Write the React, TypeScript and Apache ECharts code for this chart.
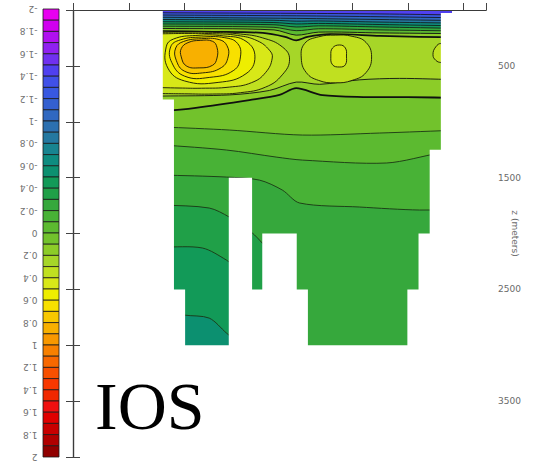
import React, { useEffect, useRef } from "react";
import * as echarts from "echarts";

// Colour scale: 40 steps of 0.1 from -2 (top of the bar) to 2 (bottom)
const scaleMin = -2;
const scaleStep = 0.1;
const palette = [
  "#e800f0", "#d000f0", "#b010f0", "#9020f0", "#7030f0",
  "#5040f0", "#4050e8", "#3858e0", "#3460d0", "#3068c0",
  "#2c70b0", "#2478a0", "#188490", "#0e8c80", "#0c9070",
  "#129a58", "#20a048", "#36a83c", "#48b236", "#5cba30",
  "#72c22c", "#8ccc28", "#a6d628", "#c0e020", "#d8e818",
  "#eeee00", "#f8e000", "#f8c800", "#f8b000", "#f89800",
  "#f88000", "#f86800", "#f85000", "#f83800", "#f02800",
  "#f01010", "#e00000", "#c80000", "#b00000", "#900000",
];
const colorbarTicks = [
  -2, -1.8, -1.6, -1.4, -1.2, -1, -0.8, -0.6, -0.4, -0.2, 0,
  0.2, 0.4, 0.6, 0.8, 1, 1.2, 1.4, 1.6, 1.8, 2,
];

// Depth axis (m) and the labelled depths
const depthMax = 4000;
const depthTicks = [500, 1500, 2500, 3500];

// Section outline: column edges along the section and the deepest valid sample of each column
const columnEdges = [1.6, 1.8, 2.0, 2.8, 3.2, 3.4, 4.0, 4.2, 6.0, 6.2, 6.4, 6.6, 6.8];
const columnBottoms = [800, 2500, 3000, 1500, 2500, 2000, 2500, 3000, 2500, 2000, 1250, 27];
const sectionFloor = 3600; // closing depth of the filled bands, hidden under the topography
const maskFloor = 3990;
const sectionLeft = 1.45;
const sectionRight = 6.95;

// Surface water value (fills everything above the first contour)
const surfaceValue = -1.45;

// Open contours from the surface downwards: level, value of the band beneath, line weight, ink, path [x, depth]
const lineLevels = [-1.3, -1.1, -0.9, -0.7, -0.5, -0.3, -0.1, 0.1, 0.2, 0.2, 0.1, 0, -0.1, -0.2, -0.3, -0.4, -0.5];
const lineBands = [-1.25, -1.05, -0.85, -0.65, -0.45, -0.25, -0.05, 0.15, 0.25, 0.15, 0.05, -0.05, -0.15, -0.25, -0.35, -0.45, -0.55];
const lineWeights = [0.8, 0.8, 0.8, 0.8, 0.8, 0.8, 0.8, 0.9, 1.7, 0.9, 1.8, 0.9, 0.9, 0.9, 0.9, 0.9, 0.9];
const lineInks = [
  "#101010", "#101010", "#101010", "#101010", "#101010", "#101010", "#101010", "#101010",
  "#101010", "#101010", "#101010", "#1b3514", "#1b3514", "#1b3514", "#1b3514", "#1b3514", "#1b3514",
];
const linePaths: number[][][] = [
  [[1.45, 25], [1.6, 25], [4.0, 30], [5.5, 35], [6.95, 45]],
  [[1.45, 45], [1.6, 45], [4.0, 52], [5.5, 60], [6.95, 70]],
  [[1.45, 65], [1.6, 65], [4.0, 75], [5.5, 85], [6.95, 95]],
  [[1.45, 85], [1.6, 85], [3.6, 92], [4.0, 100], [4.4, 98], [5.5, 108], [6.95, 118]],
  [[1.45, 105], [1.6, 105], [3.6, 112], [4.0, 125], [4.4, 120], [5.5, 130], [6.95, 142]],
  [[1.45, 125], [1.6, 125], [3.6, 132], [4.0, 152], [4.4, 142], [5.5, 152], [6.95, 165]],
  [[1.45, 145], [1.6, 145], [3.6, 155], [4.0, 185], [4.4, 168], [5.5, 178], [6.95, 188]],
  [[1.45, 165], [1.6, 165], [3.6, 178], [4.0, 225], [4.4, 198], [5.5, 205], [6.95, 212]],
  [[1.45, 188], [1.6, 188], [2.5, 195], [3.4, 205], [3.8, 240], [4.0, 272], [4.2, 240], [4.6, 215], [5.5, 232], [6.2, 240], [6.95, 245]],
  [[1.45, 770], [1.6, 770], [2.8, 760], [3.52, 720], [4.0, 645], [4.42, 665], [5.13, 625], [5.85, 612], [6.95, 625]],
  [[1.45, 905], [1.6, 905], [2.2, 875], [3.16, 806], [3.7, 760], [4.0, 700], [4.47, 762], [5.2, 779], [6.0, 779], [6.95, 788]],
  [[1.45, 1047], [1.6, 1047], [2.8, 1074], [4.11, 1119], [5.49, 1101], [6.95, 1074]],
  [[1.45, 1208], [1.6, 1208], [2.75, 1253], [3.64, 1316], [4.11, 1343], [5.62, 1369], [6.57, 1280], [6.95, 1260]],
  [[1.45, 1477], [1.6, 1477], [2.75, 1495], [3.34, 1522], [3.75, 1611], [4.06, 1727], [5.13, 1763], [6.21, 1790], [6.95, 1780]],
  [[1.45, 1745], [1.6, 1745], [2.44, 1772], [2.8, 1853], [3.2, 1990], [3.4, 2090], [3.6, 2200]],
  [[1.45, 2121], [1.6, 2121], [2.32, 2130], [2.75, 2238], [2.9, 2300]],
  [[1.45, 2690], [1.6, 2690], [1.99, 2730], [2.44, 2757], [2.75, 2891], [2.9, 2950]],
];

// Closed contours around the warm cores: level, value inside, outline [x, depth]
const ringLevels = [0.3, 0.4, 0.5, 0.6, 0.7, 0.8, 0.3, 0.4, 0.3];
const ringBands = [0.35, 0.45, 0.55, 0.65, 0.75, 0.85, 0.35, 0.45, 0.35];
const ringPaths: number[][][] = [
  [[1.45, 470], [1.45, 202], [1.6, 200], [2.0, 198], [2.5, 200], [3.0, 215], [3.4, 250], [3.75, 330], [3.88, 440], [3.75, 580], [3.45, 690], [3.0, 740], [2.5, 752], [2.0, 750], [1.6, 748], [1.45, 748]],
  [[1.45, 470], [1.45, 214], [1.6, 213], [2.0, 210], [2.5, 212], [2.95, 228], [3.3, 275], [3.52, 360], [3.57, 430], [3.45, 560], [3.2, 650], [2.8, 690], [2.3, 700], [1.9, 698], [1.6, 695], [1.45, 695]],
  [[1.67, 330], [1.8, 260], [2.2, 228], [2.7, 232], [3.1, 280], [3.26, 420], [3.1, 570], [2.6, 648], [2.0, 635], [1.7, 520]],
  [[1.75, 330], [1.92, 268], [2.3, 242], [2.72, 248], [2.95, 300], [3.0, 420], [2.88, 540], [2.45, 603], [2.0, 592], [1.77, 470]],
  [[1.84, 340], [1.98, 282], [2.3, 257], [2.62, 265], [2.76, 320], [2.78, 420], [2.66, 515], [2.32, 563], [2.0, 548], [1.85, 450]],
  [[1.94, 345], [2.06, 292], [2.28, 272], [2.5, 280], [2.58, 335], [2.58, 430], [2.5, 495], [2.26, 518], [2.03, 500], [1.94, 420]],
  [[4.09, 430], [4.15, 300], [4.4, 240], [4.7, 225], [5.0, 235], [5.25, 290], [5.35, 420], [5.25, 560], [5.0, 630], [4.7, 652], [4.4, 630], [4.18, 560]],
  [[4.62, 412], [4.65, 340], [4.78, 313], [4.88, 340], [4.9, 412], [4.88, 490], [4.78, 510], [4.65, 490]],
  [[6.45, 400], [6.5, 330], [6.6, 300], [6.75, 340], [6.75, 460], [6.6, 470], [6.5, 450]],
];

const colorOf = (v: number) => {
  const i = Math.floor((v - scaleMin) / scaleStep + 1e-6);
  return palette[Math.max(0, Math.min(palette.length - 1, i))];
};

// White topography: below each column's bottom, plus the margins beside the section
const maskCells: number[][] = [
  ...columnBottoms.map((b, i) => [columnEdges[i], columnEdges[i + 1], b]),
  [1.0, 1.6, 0],
  [6.8, 7.32, 0],
];

// Closes a contour path into the band beneath it; the closing corners sit in masked ground
// and are kept tight so the smoothing cannot bulge into the section.
const bandOutline = (path: number[][]) => {
  const [fx, fd] = path[0];
  const [lx, ld] = path[path.length - 1];
  return [
    ...path,
    [lx + 0.04, ld],
    [lx + 0.04, sectionFloor - 40],
    [lx + 0.04, sectionFloor],
    [lx - 0.06, sectionFloor],
    [fx + 0.06, sectionFloor],
    [fx - 0.04, sectionFloor],
    [fx - 0.04, sectionFloor - 40],
    [fx - 0.04, fd],
  ];
};

const buildOption = (): any => {
  const axisLine = { show: true, lineStyle: { color: "#3a3a3a", width: 1.2 } };
  const tickStyle = { color: "#444", width: 1 };

  return {
    animation: false,
    backgroundColor: "#ffffff",
    grid: [
      { left: 73, right: 60, top: 10, bottom: 9 },
      { left: 43, top: 9, width: 16, height: 448 },
    ],
    xAxis: [
      {
        gridIndex: 0, type: "value", min: 0, max: 7.4, interval: 1, position: "bottom", z: 5,
        axisLine, axisTick: { show: true, inside: true, length: 4, lineStyle: tickStyle },
        axisLabel: { show: false }, splitLine: { show: false },
      },
      {
        gridIndex: 0, type: "value", min: 0, max: 7.4, interval: 1, position: "top", z: 5,
        axisLine, axisTick: { show: true, length: 7, lineStyle: tickStyle },
        axisLabel: { show: false }, splitLine: { show: false },
      },
      { gridIndex: 1, type: "value", min: 0, max: 1, show: false },
    ],
    yAxis: [
      {
        gridIndex: 0, type: "value", min: 0, max: depthMax, interval: 500, inverse: true, position: "left", z: 5,
        axisLine, axisTick: { show: true, length: 7, lineStyle: tickStyle },
        axisLabel: { show: false }, splitLine: { show: false },
      },
      {
        gridIndex: 0, type: "value", min: 0, max: depthMax, interval: 500, inverse: true, position: "right", z: 5,
        axisLine, axisTick: { show: true, length: 7, lineStyle: tickStyle },
        axisLabel: {
          show: true, margin: 12, color: "#6a6a6a", fontSize: 9, fontFamily: "DejaVu Sans",
          formatter: (v: number) => (depthTicks.includes(v) ? String(v) : ""),
        },
        splitLine: { show: false },
        name: "z (meters)", nameLocation: "middle", nameRotate: -90, nameGap: 24,
        nameMoveOverlap: false,
        nameTextStyle: { color: "#6a6a6a", fontSize: 9, fontFamily: "DejaVu Sans" },
      },
      { gridIndex: 1, type: "value", min: scaleMin, max: 2, inverse: true, show: false },
    ],
    graphic: [
      {
        type: "text", left: 95, top: 372, z: 100,
        style: { text: "IOS", font: '68px "Liberation Serif"', fill: "#000000" },
      },
    ],
    series: [
      {
        // surface water filling the whole section before the contour bands
        type: "custom", name: "surface", coordinateSystem: "cartesian2d", xAxisIndex: 0, yAxisIndex: 0,
        clip: true, silent: true, z: 2,
        data: [[sectionLeft, surfaceValue]],
        renderItem: (_p: any, api: any) => {
          const a = api.coord([sectionLeft, 0]);
          const b = api.coord([sectionRight, sectionFloor]);
          return {
            type: "rect",
            shape: { x: a[0], y: a[1], width: b[0] - a[0], height: b[1] - a[1] },
            style: { fill: colorOf(surfaceValue) },
          };
        },
      },
      {
        // each contour fills the band beneath it and draws its own line
        type: "custom", name: "bands", coordinateSystem: "cartesian2d", xAxisIndex: 0, yAxisIndex: 0,
        clip: true, silent: true, z: 2,
        data: lineLevels.map((lv, i) => [i, lv]),
        renderItem: (params: any, api: any) => {
          const i = params.dataIndex;
          const pts = bandOutline(linePaths[i]).map((p) => api.coord(p));
          return {
            type: "polygon",
            shape: { points: pts, smooth: 0.3 },
            style: { fill: colorOf(lineBands[i]), stroke: lineInks[i], lineWidth: lineWeights[i] },
          };
        },
      },
      {
        type: "custom", name: "cores", coordinateSystem: "cartesian2d", xAxisIndex: 0, yAxisIndex: 0,
        clip: true, silent: true, z: 3,
        data: ringLevels.map((lv, i) => [i, lv]),
        renderItem: (params: any, api: any) => {
          const i = params.dataIndex;
          const pts = ringPaths[i].map((p) => api.coord(p));
          return {
            type: "polygon",
            shape: { points: pts, smooth: 0.45 },
            style: { fill: colorOf(ringBands[i]), stroke: "#151505", lineWidth: 0.9 },
          };
        },
      },
      {
        type: "custom", name: "topography", coordinateSystem: "cartesian2d", xAxisIndex: 0, yAxisIndex: 0,
        clip: true, silent: true, z: 4,
        data: maskCells,
        renderItem: (_p: any, api: any) => {
          const a = api.coord([api.value(0), api.value(2)]);
          const b = api.coord([api.value(1), maskFloor]);
          return {
            type: "rect",
            shape: { x: a[0] - 0.5, y: a[1], width: b[0] - a[0] + 1, height: b[1] - a[1] },
            style: { fill: "#ffffff" },
          };
        },
      },
      {
        type: "custom", name: "colorbar", coordinateSystem: "cartesian2d", xAxisIndex: 2, yAxisIndex: 2,
        silent: true, z: 3,
        data: palette.map((_c, i) => [i, scaleMin + i * scaleStep]),
        renderItem: (params: any, api: any) => {
          const i = params.dataIndex;
          const lo = scaleMin + i * scaleStep;
          const a = api.coord([0, lo]);
          const b = api.coord([1, lo + scaleStep]);
          return {
            type: "rect",
            shape: { x: a[0], y: a[1], width: b[0] - a[0], height: b[1] - a[1] },
            style: { fill: palette[i], stroke: "#1a1a1a", lineWidth: 0.8 },
          };
        },
      },
      {
        type: "custom", name: "colorbar labels", coordinateSystem: "cartesian2d", xAxisIndex: 2, yAxisIndex: 2,
        silent: true, clip: false, z: 3,
        data: colorbarTicks.map((v) => [0, v]),
        renderItem: (params: any, api: any) => {
          const v = colorbarTicks[params.dataIndex];
          const p = api.coord([-0.35, v]);
          return {
            type: "text",
            x: p[0],
            y: p[1],
            rotation: Math.PI,
            style: {
              text: String(Number(v.toFixed(1))),
              x: 0, y: 0, align: "left", verticalAlign: "middle",
              fill: "#707070", font: '9px "DejaVu Sans"',
            },
          };
        },
      },
    ],
  };
};

export default function App() {
  const ref = useRef<HTMLDivElement>(null);
  useEffect(() => {
    if (!ref.current) return;
    const chart = echarts.init(ref.current, null, { renderer: "svg" });
    chart.setOption(buildOption());
    return () => chart.dispose();
  }, []);
  return (
    <div
      ref={ref}
      style={{ position: "fixed", left: 0, top: 0, width: 546, height: 466, background: "#ffffff" }}
    />
  );
}
